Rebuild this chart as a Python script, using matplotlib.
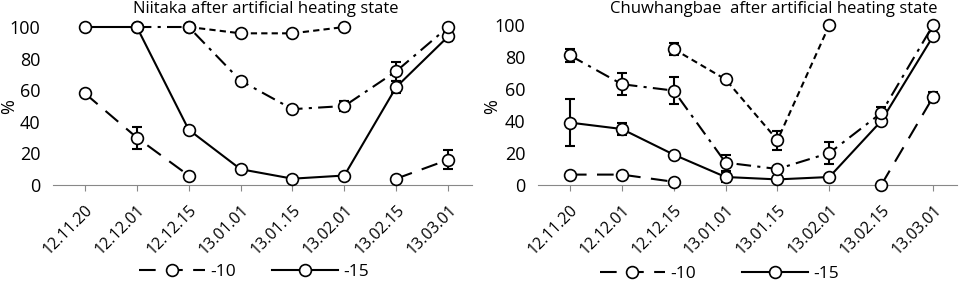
import numpy as np
import matplotlib
matplotlib.use('Agg')
import matplotlib.pyplot as plt

dates = ['12.11.20', '12.12.01', '12.12.15', '13.01.01', '13.01.15', '13.02.01', '13.02.15', '13.03.01']
nan = np.nan

# Niitaka
nii_m10 = [58, 30, 6, nan, nan, nan, 4, 16]
nii_m10_err = [1, 7, 0, 0, 0, 0, 1, 6]
nii_m15 = [100, 100, 35, 10, 4, 6, 62, 94]
nii_m15_err = [0, 0, 2, 0, 0, 0, 4, 3]
nii_dd = [nan, 100, 100, 66, 48, 50, 72, 100]
nii_dd_err = [0, 0, 0, 0, 2, 3, 6, 0]
nii_sd = [nan, nan, 100, 96, 96, 100, nan, nan]
nii_sd_err = [0, 0, 0, 1.5, 1, 0, 0, 0]

# Chuwhangbae
chu_m10 = [6.5, 6.5, 2, nan, nan, nan, 0, 55]
chu_m10_err = [0, 0, 0, 0, 0, 0, 0, 3]
chu_m15 = [39, 35, 19, 5, 3.5, 5, 40, 93]
chu_m15_err = [14.5, 4, 0, 3, 0, 0, 0, 0]
chu_dd = [81, 63, 59, 14, 10, 20, 45, 100]
chu_dd_err = [4, 7, 8.5, 5, 1.5, 7, 4, 0]
chu_sd = [nan, nan, 85, 66, 28, 100, nan, nan]
chu_sd_err = [0, 0, 4, 0, 6, 0, 0, 0]

plt.rcParams['font.family'] = ['Open Sans', 'DejaVu Sans']

fig = plt.figure(figsize=(9.59, 2.82), dpi=100)
W, H = 959, 282

styles = {
    'm10': dict(ls=(0, (8, 5))),
    'm15': dict(ls='-'),
    'dd': dict(ls=(0, (7, 3, 1.5, 3))),
    'sd': dict(ls=(0, (3, 2))),
}

# (axis left px, axis top px, "%" x px, title, title centre px,
#  legend centre px, legend y px, legend column spacing, series)
panels = [
    (53, 27, 9, 'Niitaka after artificial heating state', 266, 254, 272, 2.1,
     [(nii_m10, nii_m10_err, 'm10'), (nii_m15, nii_m15_err, 'm15'),
      (nii_dd, nii_dd_err, 'dd'), (nii_sd, nii_sd_err, 'sd')]),
    (538, 25, 492, 'Chuwhangbae  after artificial heating state', 774, 719, 274, 2.6,
     [(chu_m10, chu_m10_err, 'm10'), (chu_m15, chu_m15_err, 'm15'),
      (chu_dd, chu_dd_err, 'dd'), (chu_sd, chu_sd_err, 'sd')]),
]

x = np.arange(len(dates))
for left, top, px, title, tcx, legx, legy, colsp, series in panels:
    ax = fig.add_axes([left / W, 1 - 185 / H, 419 / W, (185 - top) / H])
    handles = {}
    for vals, err, key in series:
        vals = np.array(vals, dtype=float)
        err = np.array(err, dtype=float)
        ax.errorbar(x, vals, yerr=np.where(err > 0, err, np.nan), fmt='none',
                    ecolor='black', elinewidth=1.5, capsize=3.5, capthick=1.5,
                    zorder=3, clip_on=False)
        h, = ax.plot(x, vals, color='black', lw=1.5, marker='o', ms=8.5,
                     mfc='white', mec='black', mew=1.2, zorder=4, clip_on=False,
                     **styles[key])
        handles[key] = h
    ax.set_xlim(-0.615, 7.46)
    ax.set_ylim(0, 100)
    ax.set_yticks([0, 20, 40, 60, 80, 100])
    ax.tick_params(axis='y', length=0, labelsize=13, pad=9)
    ax.set_xticks(x)
    ax.set_xticklabels(dates, rotation=45, ha='right', rotation_mode='anchor', fontsize=11.5)
    ax.tick_params(axis='x', direction='out', length=4, color='#888888', pad=8)
    for s in ['top', 'right', 'left']:
        ax.spines[s].set_visible(False)
    ax.spines['bottom'].set_color('#888888')
    fig.text(px / W, 1 - 107 / H, '%', rotation=90, ha='center', va='center', fontsize=13)
    fig.text(tcx / W, 1 - 9 / H, title, ha='center', va='center', fontsize=12)
    fig.legend([handles['m10'], handles['m15']], ['-10', '-15'], ncol=2,
               loc='center', bbox_to_anchor=(legx / W, 1 - legy / H),
               frameon=False, fontsize=12.5, handlelength=3.8, columnspacing=colsp,
               handletextpad=0.3)

fig.savefig('out.png', dpi=100)
